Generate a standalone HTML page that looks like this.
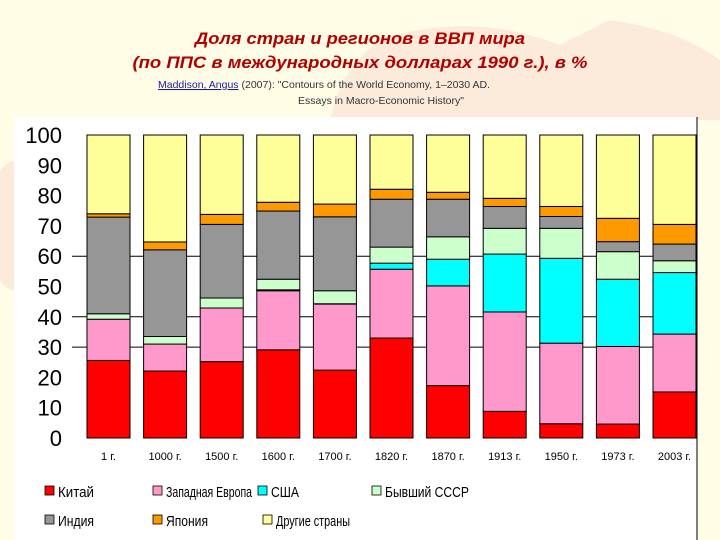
<!DOCTYPE html>
<html><head><meta charset="utf-8">
<style>
body{margin:0;width:720px;height:540px;overflow:hidden;background:#fffde6;font-family:"Liberation Sans",sans-serif;}
svg{display:block}
</style></head>
<body>
<svg width="720" height="540" xmlns="http://www.w3.org/2000/svg">
<path d="M380 40 Q470 10 560 45 L610 20 Q680 30 720 60 L720 120 L330 120 Q340 70 380 40Z" fill="#fbe3d6" opacity="0.7"/>
<path d="M0 170 Q30 140 50 200 L40 280 Q10 300 0 280Z" fill="#fbe3d6" opacity="0.7"/>
<text x="360" y="44" text-anchor="middle" font-family="'Liberation Sans',sans-serif" font-style="italic" font-weight="bold" font-size="17" fill="#b00000" textLength="330" lengthAdjust="spacingAndGlyphs">Доля стран и регионов в ВВП мира</text>
<text x="360" y="68" text-anchor="middle" font-family="'Liberation Sans',sans-serif" font-style="italic" font-weight="bold" font-size="17" fill="#b00000" textLength="455" lengthAdjust="spacingAndGlyphs">(по ППС в международных долларах 1990 г.), в %</text>
<text x="158" y="88" font-size="10.5" fill="#333"><tspan fill="#1a1aa0" text-decoration="underline">Maddison, Angus</tspan> (2007): "Contours of the World Economy, 1–2030 AD.</text>
<text x="298" y="104" font-size="10.5" fill="#333">Essays in Macro-Economic History"</text>
<rect x="14" y="117" width="683" height="423" fill="#fff"/>
<line x1="697" y1="117" x2="697" y2="540" stroke="#000"/>
<g id="grid"></g>
<g id="yax"></g>
<g id="bars"></g>
<g id="xax"></g>
<g id="legend"></g>
</svg>
<script>
const categories=["1 г.","1000 г.","1500 г.","1600 г.","1700 г.","1820 г.","1870 г.","1913 г.","1950 г.","1973 г.","2003 г."];
const china=[25.6,22.1,25.2,29.1,22.4,33.0,17.3,8.8,4.7,4.6,15.2];
const westEurope=[13.6,8.9,17.7,19.5,21.8,22.7,32.9,32.8,26.6,25.6,19.1];
const usa=[0,0,0,0.3,0.1,2.0,8.8,19.1,28.0,22.2,20.3];
const ussr=[1.8,2.5,3.3,3.5,4.3,5.3,7.4,8.5,9.9,9.1,3.9];
const india=[31.9,28.6,24.3,22.5,24.4,15.8,12.4,7.2,3.9,3.3,5.5];
const japan=[1.1,2.6,3.3,2.9,4.2,3.3,2.3,2.7,3.3,7.7,6.5];
const yTicks=[0,10,20,30,40,50,60,70,80,90,100];
const gridValues=[30,40,60];
const seriesNames=["Китай","Западная Европа","США","Бывший СССР","Индия","Япония","Другие страны"];
const colors=["#ff0000","#ff99cc","#00ffff","#ccffcc","#969696","#ff9900","#ffff99"];
const NS="http://www.w3.org/2000/svg";
const y0=438,y100=135;
function ys(v){return y0-(y0-y100)*v/100;}
function xs(i){return 87+i*56.6;}
const bw=43;
function mk(t,a,p){const e=document.createElementNS(NS,t);for(const k in a)e.setAttribute(k,a[k]);p.appendChild(e);return e;}
const grid=document.getElementById('grid');
gridValues.forEach(v=>{const l=mk('line',{x1:72,x2:697,y1:ys(v),y2:ys(v),stroke:'#000','stroke-width':1},grid);

});
const yax=document.getElementById('yax');
yTicks.forEach(v=>{const t=mk('text',{x:62,y:ys(v)+8,'text-anchor':'end','font-size':22,fill:'#000'},yax);t.textContent=v;

});
const bars=document.getElementById('bars');
const series=[china,westEurope,usa,ussr,india,japan];
categories.forEach((c,i)=>{
 let cum=0;
 const vals=series.map(s=>s[i]);
 const others=100-vals.reduce((a,b)=>a+b,0);
 vals.push(others);
 vals.forEach((v,k)=>{
  if(v<=0){return;}
  const r=mk('rect',{x:xs(i),y:ys(cum+v),width:bw,height:ys(cum)-ys(cum+v),fill:colors[k],stroke:'#000','stroke-width':1},bars);
  
  
  cum+=v;
 });
});
const xax=document.getElementById('xax');
categories.forEach((c,i)=>{const t=mk('text',{x:xs(i)+bw/2,y:460,'text-anchor':'middle','font-size':11,fill:'#000'},xax);t.textContent=c;

});
const leg=document.getElementById('legend');
const lpos=[[43,497],[151,497],[256,497],[370,497],[43,526],[151,526],[261,526]];
const lwid=[36,86,28,84,36,42,74];
seriesNames.forEach((n,k)=>{
 const g=mk('g',{},leg);
 
 
 mk('rect',{x:lpos[k][0]+2,y:lpos[k][1]-11,width:9,height:9,fill:colors[k],stroke:'#000','stroke-width':0.8},g);
 const t=mk('text',{x:lpos[k][0]+15,y:lpos[k][1],'font-size':15,fill:'#000',textLength:lwid[k],lengthAdjust:'spacingAndGlyphs'},g);t.textContent=n;
});
</script>
</body></html>
